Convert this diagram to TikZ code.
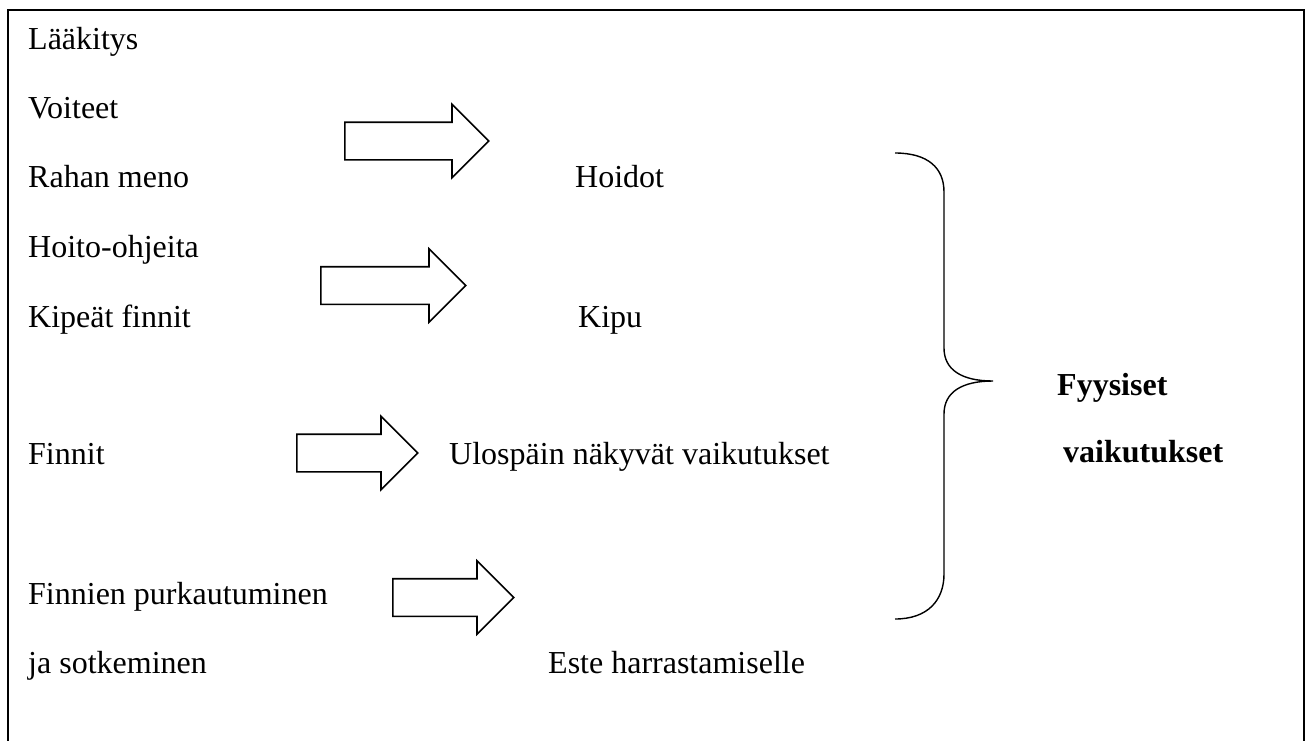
\documentclass[tikz,border=0pt]{standalone}
\usepackage{fontspec}
\setmainfont{Liberation Serif}
\usetikzlibrary{shapes.arrows,positioning}

\begin{document}
\begin{tikzpicture}[
    x=1pt, y=-1pt,
    txt/.style={anchor=base west, inner sep=0pt, font=\fontsize{32}{38}\selectfont},
    bold/.style={txt, font=\fontsize{32}{38}\selectfont\bfseries},
    blockarrow/.style={single arrow, draw=black, fill=white, line width=1.6pt,
        minimum width=72pt, single arrow head extend=18pt,
        single arrow tip angle=90, inner xsep=0pt, inner ysep=18pt, anchor=tail},
    brace/.style={line width=1.4pt}
]
\useasboundingbox (0,0) rectangle (1307,740);
\draw[line width=2.2pt] (8,745) -- (8,10) -- (1304,10) -- (1304,745);

% left column
\node[txt] (laakitys) at (28,49) {Lääkitys};
\node[txt] (voiteet) at (28,118) {Voiteet};
\node[txt] (raha) at (28,187) {Rahan meno};
\node[txt] (ohjeet) at (28,257) {Hoito-ohjeita};
\node[txt] (kipeat) at (28,327) {Kipeät finnit};
\node[txt] (finnit) at (28,464) {Finnit};
\node[txt] (purku) at (28,604) {Finnien purkautuminen};
\node[txt] (sotku) at (28,673) {ja sotkeminen};

% middle column
\node[txt] (hoidot) at (575,187) {Hoidot};
\node[txt] (kipu) at (578,327) {Kipu};
\node[txt] (nakyvat) at (449,464) {Ulospäin näkyvät vaikutukset};
\node[txt] (este) at (548,673) {Este harrastamiselle};

% arrows
\node[blockarrow, minimum height=144pt] (nuoli1) at (344,141) {};
\node[blockarrow, minimum height=145pt] (nuoli2) at (320,285.5) {};
\node[blockarrow, minimum height=121pt] (nuoli3) at (296,453) {};
\node[blockarrow, minimum height=121pt] (nuoli4) at (392,597.5) {};

% brace
\draw[brace] (895,153) .. controls (928,153) and (944,168) .. (944,192)
    -- (944,348) .. controls (944,370) and (962,381) .. (993,381)
    .. controls (962,381) and (944,392) .. (944,414)
    -- (944,574) .. controls (944,600) and (928,619) .. (895,619);
\coordinate (karki) at (993,381);

% result
\node[bold] (fyysiset) at (1057,395) {Fyysiset};
\node[bold] (vaikutukset) at (1063,462) {vaikutukset};
\end{tikzpicture}
\end{document}
